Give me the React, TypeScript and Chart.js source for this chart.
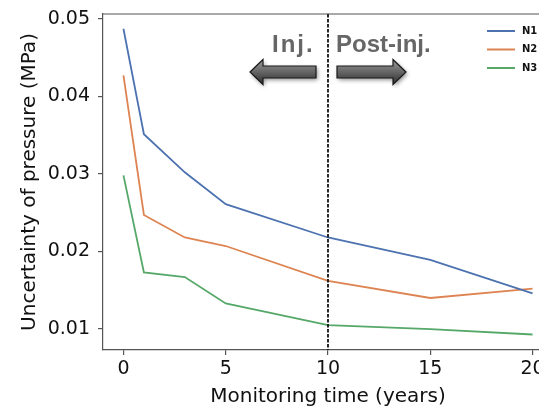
import React, { useEffect, useRef } from "react";
import { Chart, registerables } from "chart.js";

Chart.register(...registerables);

const years = [0, 1, 3, 5, 10, 15, 20];
const n1 = [0.0487, 0.0351, 0.0302, 0.0261, 0.0218, 0.0189, 0.0146];
const n2 = [0.0427, 0.0247, 0.0218, 0.0207, 0.0162, 0.014, 0.0152];
const n3 = [0.0298, 0.0173, 0.0167, 0.0133, 0.0105, 0.01, 0.0093];
const seriesLabels = ["N1", "N2", "N3"];
const seriesColors = ["#4C72B0", "#DD8452", "#55A868"];
const xTicks = [0, 5, 10, 15, 20];
const yTicks = [0.01, 0.02, 0.03, 0.04, 0.05];
const phaseBoundary = 10;
const phaseLabels = ["Inj.", "Post-inj."];

const W = 580;
const H = 406;

function drawArrow(ctx: CanvasRenderingContext2D, tipX: number, baseX: number, endX: number, cy: number) {
  const bodyH = 6;
  const headH = 12.5;
  ctx.save();
  ctx.beginPath();
  ctx.moveTo(tipX, cy);
  ctx.lineTo(baseX, cy - headH);
  ctx.lineTo(baseX, cy - bodyH);
  ctx.lineTo(endX, cy - bodyH);
  ctx.lineTo(endX, cy + bodyH);
  ctx.lineTo(baseX, cy + bodyH);
  ctx.lineTo(baseX, cy + headH);
  ctx.closePath();
  const g = ctx.createLinearGradient(0, cy - headH, 0, cy + headH);
  g.addColorStop(0, "#9a9a9a");
  g.addColorStop(0.45, "#6a6a6a");
  g.addColorStop(1, "#2e2e2e");
  ctx.shadowColor = "rgba(0,0,0,0.45)";
  ctx.shadowBlur = 4;
  ctx.shadowOffsetX = 1.5;
  ctx.shadowOffsetY = 2;
  ctx.fillStyle = g;
  ctx.fill();
  ctx.shadowColor = "transparent";
  ctx.lineWidth = 1.2;
  ctx.strokeStyle = "#1a1a1a";
  ctx.stroke();
  ctx.restore();
}

const overlayPlugin = {
  id: "overlay",
  afterDatasetsDraw(chart: any) {
    const { ctx, chartArea, scales } = chart;
    const xs = scales.x;
    ctx.save();
    // top spine
    ctx.strokeStyle = "#555";
    ctx.lineWidth = 1.2;
    ctx.beginPath();
    ctx.moveTo(chartArea.left, chartArea.top);
    ctx.lineTo(chartArea.right, chartArea.top);
    ctx.stroke();
    // dashed vertical line
    const bx = xs.getPixelForValue(phaseBoundary);
    ctx.strokeStyle = "#111";
    ctx.lineWidth = 1.8;
    ctx.setLineDash([3.5, 1.5]);
    ctx.beginPath();
    ctx.moveTo(bx, chartArea.top);
    ctx.lineTo(bx, chartArea.bottom);
    ctx.stroke();
    ctx.setLineDash([]);
    // phase labels
    ctx.fillStyle = "#666";
    ctx.font = "bold 24px 'Liberation Sans', Arial, sans-serif";
    ctx.textBaseline = "alphabetic";
    ctx.textAlign = "left";
    (ctx as any).letterSpacing = "2px";
    const w0 = ctx.measureText(phaseLabels[0]).width;
    ctx.fillText(phaseLabels[0], bx - 56, 52);
    (ctx as any).letterSpacing = "0px";
    ctx.fillText(phaseLabels[1], bx + 8, 52);
    void w0;
    // arrows
    const cy = chartArea.top + 58;
    drawArrow(ctx, bx - 78, bx - 65, bx - 12, cy);
    drawArrow(ctx, bx + 78, bx + 65, bx + 9, cy);
    // legend
    const ds = chart.data.datasets;
    ctx.font = "bold 10px 'DejaVu Sans', sans-serif";
    ctx.textBaseline = "middle";
    ctx.textAlign = "left";
    const rowY = [31, 49.5, 68];
    ds.forEach((d: any, i: number) => {
      const y = rowY[i];
      ctx.strokeStyle = d.borderColor;
      ctx.lineWidth = 2;
      ctx.beginPath();
      ctx.moveTo(487, y);
      ctx.lineTo(515, y);
      ctx.stroke();
      ctx.fillStyle = "#111";
      ctx.fillText(d.label, 522, y);
    });
    ctx.restore();
  },
};

export default function App() {
  const ref = useRef<HTMLCanvasElement>(null);
  useEffect(() => {
    document.body.style.margin = "0";
    const canvas = ref.current!;
    const mk = (vals: number[], i: number) => ({
      label: seriesLabels[i],
      data: years.map((x, j) => ({ x, y: vals[j] })),
      borderColor: seriesColors[i],
      backgroundColor: seriesColors[i],
      borderWidth: 1.8,
      pointRadius: 0,
      tension: 0,
      fill: false,
    });
    const tickFont = { family: "'DejaVu Sans', sans-serif", size: 19 };
    const titleFont = { family: "'DejaVu Sans', sans-serif", size: 20 };
    const chart = new Chart(canvas, {
      type: "line",
      data: { datasets: [mk(n1, 0), mk(n2, 1), mk(n3, 2)] },
      options: {
        responsive: false,
        animation: false,
        devicePixelRatio: 1,
        layout: { padding: { left: 0, top: 14, right: W - 553, bottom: 0 } },
        plugins: { legend: { display: false }, tooltip: { enabled: false } },
        scales: {
          x: {
            type: "linear",
            min: -1,
            max: 21,
            afterBuildTicks: (s: any) => {
              s.ticks = xTicks.map((v) => ({ value: v }));
            },
            afterFit: (s: any) => {
              s.height = H - 350;
              s.paddingLeft = 0;
              s.paddingRight = 0;
            },
            ticks: {
              color: "#111",
              font: tickFont,
              padding: 3,
              maxRotation: 0,
              callback: (v: any) => String(v),
            },
            grid: { display: true, drawOnChartArea: false, drawTicks: true, tickLength: 5, color: "#555", lineWidth: 1.2 },
            border: { display: true, color: "#555", width: 1.2 },
            title: {
              display: true,
              text: "Monitoring time (years)",
              color: "#111",
              font: titleFont,
              padding: { top: 0, bottom: -3 },
            },
          },
          y: {
            type: "linear",
            min: 0.0073,
            max: 0.0506,
            afterBuildTicks: (s: any) => {
              s.ticks = yTicks.map((v) => ({ value: v }));
            },
            afterFit: (s: any) => {
              s.width = 103;
              s.paddingTop = 0;
              s.paddingBottom = 0;
            },
            ticks: {
              color: "#111",
              font: tickFont,
              padding: 8,
              callback: (v: any) => Number(v).toFixed(2),
            },
            grid: { display: true, drawOnChartArea: false, drawTicks: true, tickLength: 5, color: "#555", lineWidth: 1.2 },
            border: { display: true, color: "#555", width: 1.2 },
            title: {
              display: true,
              text: "Uncertainty of pressure (MPa)",
              color: "#111",
              font: titleFont,
              padding: { top: 18, bottom: 0 },
            },
          },
        },
      },
      plugins: [overlayPlugin],
    } as any);
    return () => chart.destroy();
  }, []);
  return (
    <div style={{ width: 539, height: 406, overflow: "hidden", position: "relative" }}>
      <canvas ref={ref} width={W} height={H} style={{ width: W, height: H, display: "block" }} />
    </div>
  );
}
